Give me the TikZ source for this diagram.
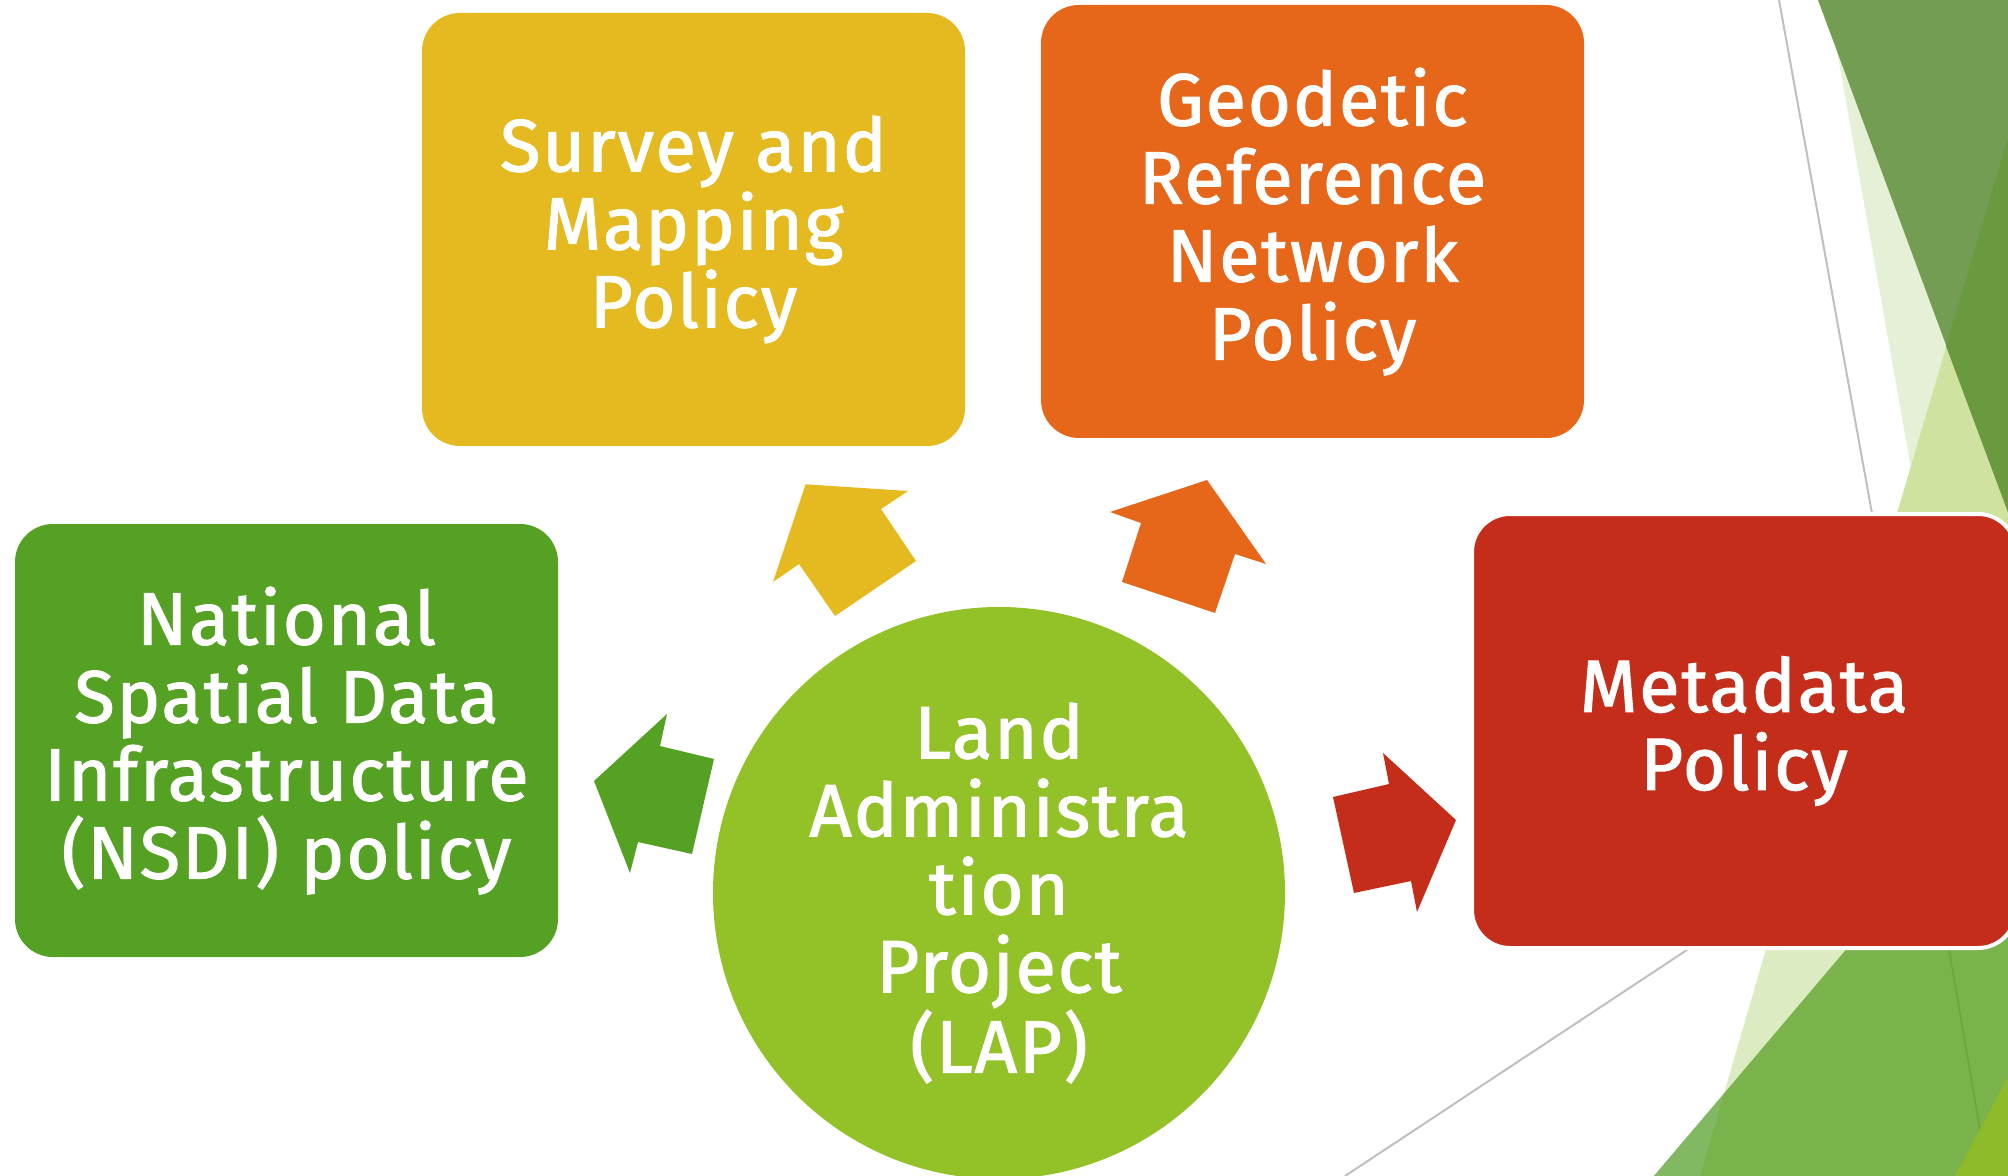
\documentclass[tikz,border=0pt]{standalone}
\usepackage{fontspec}
\setmainfont{Fira Sans}
\newfontfamily\labelfont{Fira Sans}[FakeBold=1.6, LetterSpace=2.5]
\definecolor{cyellow}{HTML}{E5B920}
\definecolor{corange}{HTML}{E6661A}
\definecolor{cgreen}{HTML}{55A124}
\definecolor{cred}{HTML}{C32D1A}
\definecolor{clime}{HTML}{92C228}
\definecolor{bgdark}{HTML}{739D52}
\definecolor{bgdarktwo}{HTML}{6A9A3F}
\definecolor{bgpale}{HTML}{E6F0D6}
\definecolor{bglight}{HTML}{CFE2A0}
\definecolor{bgpaletwo}{HTML}{DDEBC3}
\definecolor{bgmid}{HTML}{7AB34C}
\definecolor{bgmidlight}{HTML}{82B862}
\definecolor{bgyg}{HTML}{8DBB2A}
\definecolor{bgline}{HTML}{BFBFBF}
\definecolor{bgdarkline}{HTML}{6AA53E}
\begin{document}
\begin{tikzpicture}[x=0.5pt,y=-0.5pt,
  policybox/.style={rectangle, rounded corners=19pt, text=white, align=center,
    minimum width=271.5pt, minimum height=216.5pt, inner sep=0pt,
    font=\labelfont\fontsize{37}{39}\selectfont},
  hub/.style={circle, fill=clime, text=white, align=center, minimum size=286pt,
    inner sep=0pt, font=\labelfont\fontsize{37}{39}\selectfont}]
\useasboundingbox (0,0) rectangle (2008,1176);
\clip (0,0) rectangle (2008,1176);
% background decoration, top right
\fill[bgpale] (1828,0) -- (2008,0) -- (2008,530) -- (1922,530) -- cycle;
\fill[bglight] (2008,138) -- (2008,530) -- (1892,530) -- cycle;
\fill[bgdark] (1818,0) -- (2008,0) -- (2008,512) -- cycle;
\fill[bgdarktwo] (2008,138) -- (2008,512) -- (1946,346) -- cycle;
\draw[bgline, line width=1pt] (1779,0) -- (1875,530);
% background decoration, bottom right
\fill[bgpaletwo] (1786,880) -- (2008,880) -- (2008,1176) -- (1700,1176) -- cycle;
\fill[bgmid] (1905,880) -- (2008,880) -- (2008,1176) -- (1654,1176) -- cycle;
\fill[bgmidlight] (1724,1094) -- (1700,1176) -- (1654,1176) -- cycle;
\draw[bgdarkline, line width=0.8pt] (1937,880) -- (1988,1176);
\fill[bgyg] (2008,1077) -- (2008,1176) -- (1955,1176) -- cycle;
\draw[bgline, line width=1pt] (1702,940) -- (1345,1176);
% central hub
\node[hub] (lap) at (999,893) {Land\\Administra\\tion\\Project\\(LAP)};
% policy boxes
\node[policybox, fill=cyellow] (survey) at (693.5,229.5) {Survey and\\Mapping\\Policy};
\node[policybox, fill=corange] (geodetic) at (1312.5,221.5) {Geodetic\\Reference\\Network\\Policy};
\node[policybox, fill=cgreen] (nsdi) at (286.5,740.5) {National\\Spatial Data\\Infrastructure\\(NSDI) policy};
\node[policybox, fill=cred, draw=white, line width=2pt, minimum width=272pt, minimum height=217pt] (metadata) at (1744,731) {Metadata\\Policy};
% block arrows from the hub to each policy
\fill[cyellow] (805.6,484.3) -- (908,491) -- (881,509) -- (916,561) -- (835,616) -- (799,564) -- (773,582) -- cycle;
\fill[corange] (1207,480) -- (1266,564) -- (1235,554) -- (1215,613) -- (1122,582) -- (1141,523) -- (1110,512) -- cycle;
\fill[cgreen] (667,714) -- (660,746) -- (714,759) -- (692,854) -- (638,842) -- (630,873) -- (594,781) -- cycle;
\fill[cred] (1383,753) -- (1456,820) -- (1417,912) -- (1411,881) -- (1354,893) -- (1333,797) -- (1389,784) -- cycle;
\end{tikzpicture}
\end{document}
